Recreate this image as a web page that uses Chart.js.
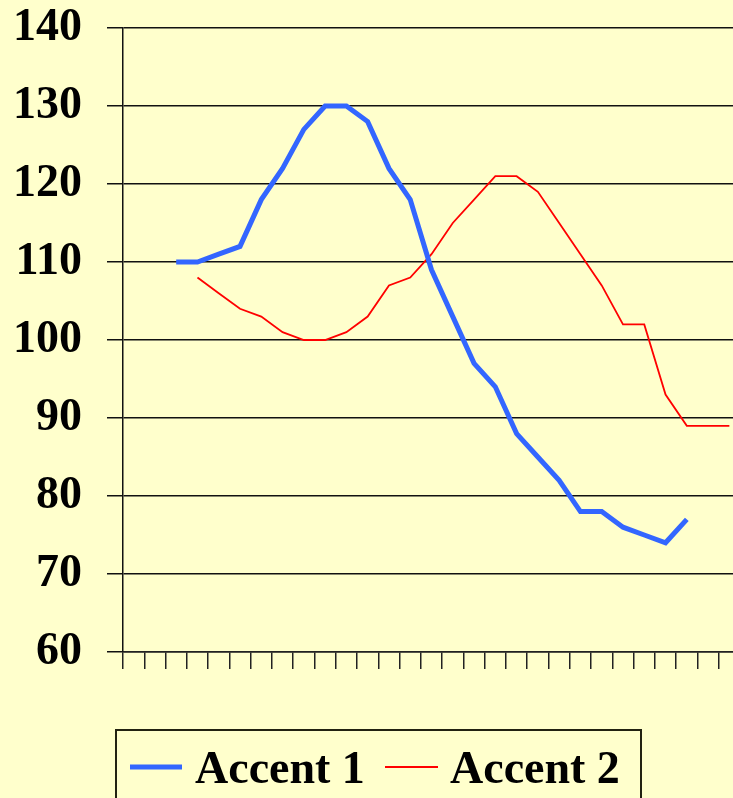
<!DOCTYPE html>
<html>
<head>
<meta charset="utf-8">
<script src="https://cdn.jsdelivr.net/npm/chart.js@4"></script>
<style>
  html, body { margin: 0; padding: 0; overflow: hidden; background: #FFFFCC; }
  canvas { display: block; }
</style>
</head>
<body>
<canvas id="chart" width="740" height="798"></canvas>
<script>
// ── Data ─────────────────────────────────────────────────────
const categories = Array.from({ length: 29 }, (_, i) => String(i + 1));

// index 0..28, null = no point
const accent1 = [null, null,
  110, 110, 111, 112, 118, 122, 127, 130, 130, 128, 122, 118,
  109, 103, 97, 94, 88, 85, 82, 78, 78, 76, 75, 74, 77,
  null, null];

const accent2 = [null, null, null,
  108, 106, 104, 103, 101, 100, 100, 101, 103, 107, 108,
  111, 115, 118, 121, 121, 119, 115, 111, 107, 102, 102, 93,
  89, 89, 89];

const seriesNames = ['Accent 1', 'Accent 2'];
const seriesColors = ['#3366FF', '#FF0000'];

const FONT = "'Liberation Serif', 'Times New Roman', serif";

// ── Boxed legend drawn under the plot ────────────────────────
const boxedLegend = {
  id: 'boxedLegend',
  afterDraw(chart) {
    const ctx = chart.ctx;
    ctx.save();
    ctx.strokeStyle = '#222211';
    ctx.lineWidth = 2;
    ctx.strokeRect(116, 730, 525, 90);

    const items = [
      { x: 130, len: 52, text: 195, width: 5 },
      { x: 385, len: 53, text: 450, width: 2 },
    ];
    chart.data.datasets.forEach((ds, i) => {
      const it = items[i];
      ctx.strokeStyle = ds.borderColor;
      ctx.lineWidth = it.width;
      ctx.beginPath();
      ctx.moveTo(it.x, 767);
      ctx.lineTo(it.x + it.len, 767);
      ctx.stroke();
      ctx.fillStyle = '#000';
      ctx.font = `bold 46px ${FONT}`;
      ctx.textBaseline = 'alphabetic';
      ctx.fillText(ds.label, it.text, 783);
    });
    ctx.restore();
  },
};

new Chart(document.getElementById('chart'), {
  type: 'line',
  data: {
    labels: categories,
    datasets: [
      {
        label: seriesNames[0],
        data: accent1,
        borderColor: seriesColors[0],
        borderWidth: 5,
        pointRadius: 0,
        tension: 0,
      },
      {
        label: seriesNames[1],
        data: accent2,
        borderColor: seriesColors[1],
        borderWidth: 1.8,
        pointRadius: 0,
        tension: 0,
      },
    ],
  },
  options: {
    responsive: false,
    animation: false,
    layout: { padding: 0 },
    plugins: {
      legend: { display: false },
      tooltip: { enabled: false },
    },
    scales: {
      x: {
        offset: true,
        afterFit(scale) { scale.height = 146; },
        ticks: { display: false },
        grid: {
          offset: true,
          drawOnChartArea: false,
          drawTicks: true,
          tickLength: 17,
          color: '#222',
          lineWidth: 1.5,
        },
        border: { color: '#222', width: 1.5 },
      },
      y: {
        min: 60,
        max: 140,
        afterFit(scale) {
          scale.width = 123;
          scale.paddingTop = 28;
          scale.paddingBottom = 0;
        },
        ticks: {
          stepSize: 10,
          padding: 25,
          color: '#000',
          font: { family: FONT, size: 46, weight: 'bold' },
        },
        grid: {
          color: '#111',
          lineWidth: 1.5,
          tickLength: 16,
        },
        border: { color: '#111', width: 1.5 },
      },
    },
  },
  plugins: [boxedLegend],
});
</script>
</body>
</html>
